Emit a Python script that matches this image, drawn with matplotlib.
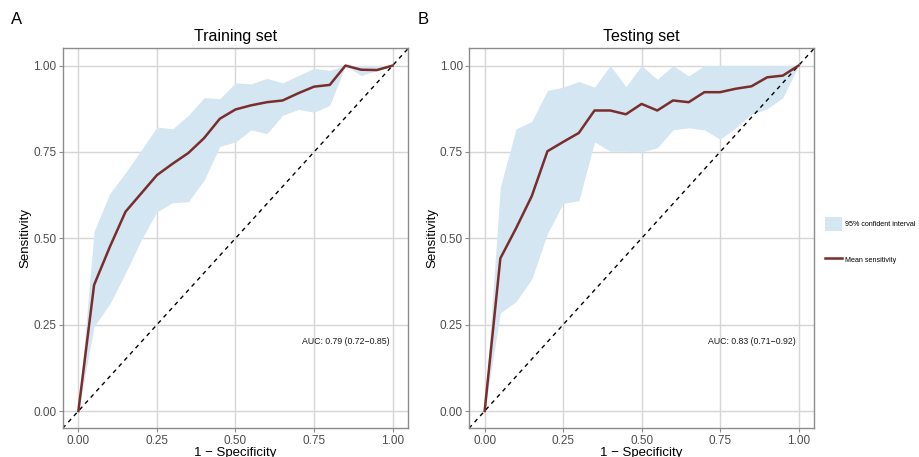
import matplotlib
matplotlib.use("Agg")
import matplotlib.pyplot as plt
from matplotlib.patches import Patch
from matplotlib.lines import Line2D

plt.rcParams['font.family'] = ['Liberation Sans', 'DejaVu Sans']

fpr = [0.00, 0.05, 0.10, 0.15, 0.20, 0.25, 0.30, 0.35, 0.40, 0.45, 0.50,
       0.55, 0.60, 0.65, 0.70, 0.75, 0.80, 0.85, 0.90, 0.95, 1.00]

train_mean = [0.0, 0.365, 0.475, 0.577, 0.63, 0.683, 0.716, 0.747, 0.79, 0.846, 0.873,
              0.885, 0.894, 0.899, 0.92, 0.939, 0.944, 1.0, 0.988, 0.987, 1.0]
train_upper = [0.0, 0.52, 0.63, 0.69, 0.755, 0.822, 0.817, 0.856, 0.907, 0.904, 0.95,
               0.947, 0.963, 0.95, 0.971, 0.992, 0.986, 1.0, 1.0, 1.0, 1.0]
train_lower = [0.0, 0.245, 0.31, 0.40, 0.495, 0.577, 0.603, 0.606, 0.668, 0.766, 0.779,
               0.814, 0.803, 0.856, 0.873, 0.865, 0.885, 1.0, 0.971, 0.986, 1.0]

test_mean = [0.0, 0.442, 0.529, 0.622, 0.752, 0.779, 0.805, 0.870, 0.870, 0.859, 0.889,
             0.870, 0.899, 0.894, 0.923, 0.923, 0.933, 0.94, 0.966, 0.971, 1.0]
test_upper = [0.0, 0.649, 0.817, 0.838, 0.928, 0.9375, 0.954, 0.9375, 1.0, 0.939, 1.0,
              0.96, 1.0, 0.97, 1.0, 1.0, 1.0, 1.0, 1.0, 1.0, 1.0]
test_lower = [0.0, 0.284, 0.317, 0.382, 0.514, 0.601, 0.609, 0.779, 0.752, 0.752, 0.75,
              0.762, 0.814, 0.82, 0.814, 0.787, 0.82, 0.859, 0.875, 0.907, 1.0]

titles = ["Training set", "Testing set"]
panel_tags = ["A", "B"]
auc_texts = ["AUC: 0.79 (0.72\u22120.85)", "AUC: 0.83 (0.71\u22120.92)"]
ticks = [0.0, 0.25, 0.5, 0.75, 1.0]
tick_labels = ["0.00", "0.25", "0.50", "0.75", "1.00"]

band_color = "#d4e6f1"
line_color = "#7a2d2d"
grid_color = "#d6d6d6"
border_color = "#8c8c8c"
tick_color = "#4d4d4d"

fig = plt.figure(figsize=(9.19, 4.57), dpi=100)
axes = [fig.add_axes([0.0682, 0.0628, 0.3761, 0.8315]),
        fig.add_axes([0.5103, 0.0628, 0.3757, 0.8315])]

data = [(train_mean, train_upper, train_lower), (test_mean, test_upper, test_lower)]

for ax, (m, u, l), title, auc in zip(axes, data, titles, auc_texts):
    ax.set_xlim(-0.05, 1.05)
    ax.set_ylim(-0.05, 1.05)
    ax.set_xticks(ticks)
    ax.set_yticks(ticks)
    ax.set_xticklabels(tick_labels)
    ax.set_yticklabels(tick_labels)
    ax.grid(True, color=grid_color, linewidth=1.0, zorder=0)
    ax.set_axisbelow(True)
    ax.fill_between(fpr, l, u, color=band_color, linewidth=0, zorder=1)
    ax.plot([-0.05, 1.05], [-0.05, 1.05], color="black", linestyle=(0, (3, 3)),
            linewidth=1.0, zorder=2)
    ax.plot(fpr, m, color=line_color, linewidth=1.8, zorder=3)
    for s in ax.spines.values():
        s.set_color(border_color)
        s.set_linewidth(1.0)
    ax.tick_params(colors=border_color, labelcolor=tick_color, labelsize=8.5,
                   length=3, width=0.8, pad=1.5)
    ax.set_title(title, fontsize=11.5, pad=5)
    ax.set_xlabel("1 \u2212 Specificity", fontsize=9.5, labelpad=0)
    ax.set_ylabel("Sensitivity", fontsize=9.5, labelpad=1)
    ax.text(0.85, 0.20, auc, fontsize=6.3, ha="center", va="center", color="#1a1a1a")

fig.text(17 / 919, 1 - 20 / 457, panel_tags[0], fontsize=12, ha="center", va="center")
fig.text(423 / 919, 1 - 20 / 457, panel_tags[1], fontsize=12, ha="center", va="center")

handles = [Patch(facecolor=band_color, edgecolor="none", label="95% confident interval"),
           Line2D([0], [0], color=line_color, linewidth=1.8, label="Mean sensitivity")]
fig.legend(handles=handles, loc="center left", bbox_to_anchor=(822 / 919, 1 - 242 / 457),
           frameon=False, fontsize=5.1, handlelength=2.4, handleheight=2.5,
           labelspacing=3.2, handletextpad=0.4, borderaxespad=0)

fig.savefig("out.png", dpi=100)
